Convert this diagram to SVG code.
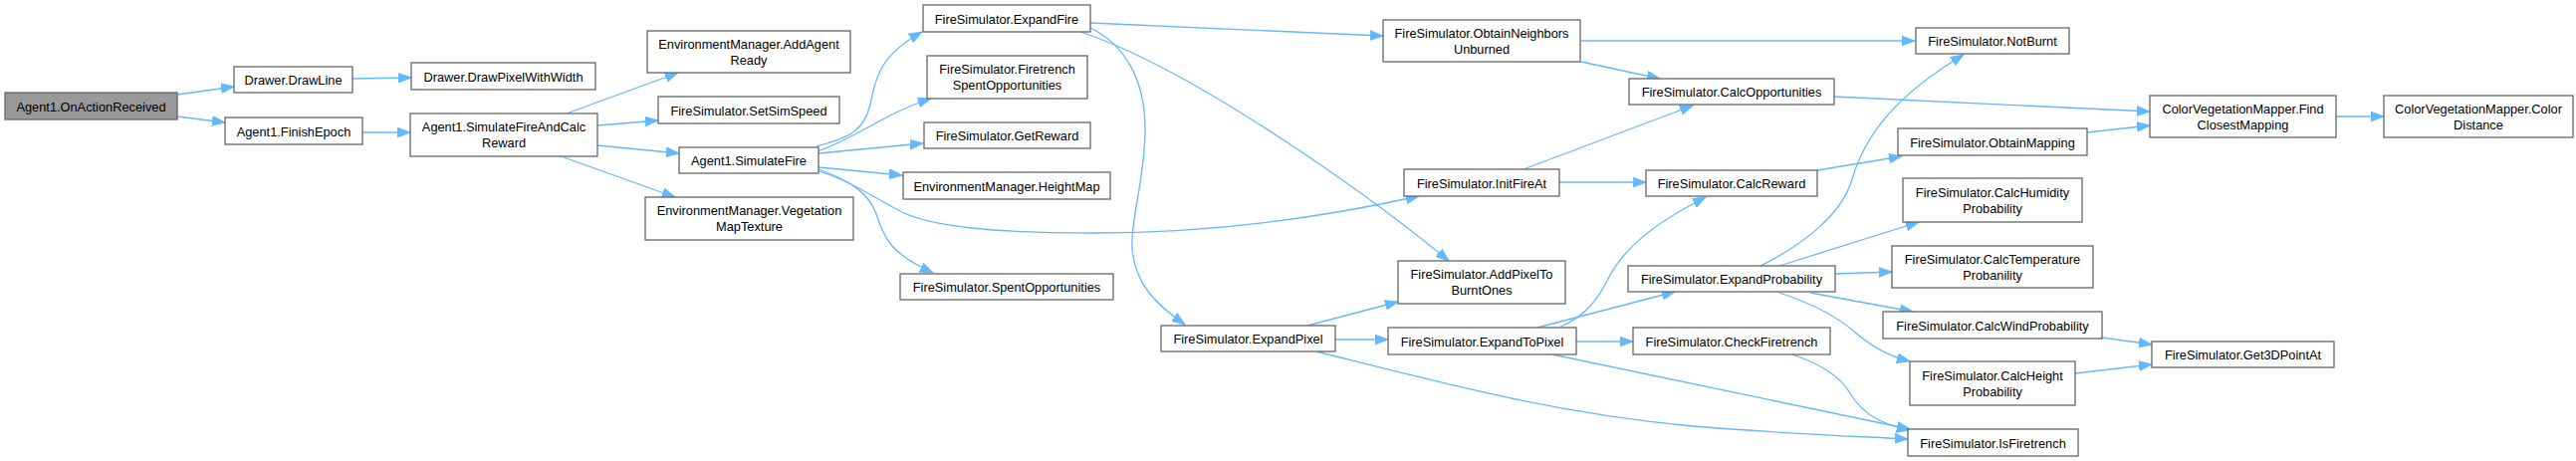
<svg xmlns="http://www.w3.org/2000/svg" width="2587" height="463" viewBox="0 0 2587 463">
<style>
.n rect{fill:#ffffff;stroke:#666666;stroke-width:1.3}
.root rect{fill:#999999}
.n text{font-family:"Liberation Sans",Arial,sans-serif;font-size:12.8px;fill:#000000;text-anchor:middle}
.e path{fill:none;stroke:#63b8ff;stroke-width:1.3;marker-end:url(#arr)}
</style>
<defs>
<marker id="arr" markerUnits="userSpaceOnUse" markerWidth="14" markerHeight="11" refX="13" refY="5.5" orient="auto">
<path d="M0,0.7 L13,5.5 L0,10.3 z" fill="#63b8ff" stroke="#63b8ff" stroke-width="1"/>
</marker>
</defs>
<rect width="2587" height="463" fill="#ffffff"/>
<g id="edges" class="e">
<path d="M178,95 L235,87"/>
<path d="M178,117 L226,123"/>
<path d="M354,79 L413,78"/>
<path d="M364,133 L412,133"/>
<path d="M569,114 L681,73"/>
<path d="M600,126 L661,121"/>
<path d="M600,146 L682,154"/>
<path d="M566,158 L678,198"/>
<path d="M820,147 C855,138 868,130 874,105 C880,75 885,55 926,32"/>
<path d="M821,152 C850,142 875,125 900,113 C912,107 922,103 935,99"/>
<path d="M822,154 L927,144"/>
<path d="M822,168 L906,176"/>
<path d="M822,172 C850,180 878,198 900,210 C930,228 1000,234 1100,234 C1220,234 1330,218 1425,197"/>
<path d="M822,170 C850,180 872,192 880,215 C888,240 895,255 937,274"/>
<path d="M1095,23 L1389,36"/>
<path d="M1085,32 C1200,70 1380,200 1455,262"/>
<path d="M1095,28 C1130,45 1150,80 1150,130 C1150,180 1135,220 1137,250 C1140,285 1160,305 1190,326"/>
<path d="M1588,41 L1923,41"/>
<path d="M1588,62 L1667,79"/>
<path d="M1530,170 L1700,106"/>
<path d="M1566,183 L1653,183"/>
<path d="M1842,97 L2159,112"/>
<path d="M2096,133 L2159,126"/>
<path d="M2346,117 L2394,117"/>
<path d="M1825,171 L1910,157"/>
<path d="M1313,327 L1404,303"/>
<path d="M1341,341 L1394,341"/>
<path d="M1322,353 C1450,385 1560,415 1700,428 C1800,436 1860,438 1916,441"/>
<path d="M1567,328 C1592,318 1605,300 1615,280 C1630,250 1660,225 1713,198"/>
<path d="M1544,329 L1682,293"/>
<path d="M1583,343 L1640,343"/>
<path d="M1559,356 L1918,431"/>
<path d="M1768,267 C1812,245 1850,215 1860,180 C1873,135 1905,95 1972,55"/>
<path d="M1787,267 L1927,223"/>
<path d="M1843,275 L1900,273"/>
<path d="M1818,294 L1921,313"/>
<path d="M1787,294 C1820,305 1845,318 1862,333 C1880,348 1895,357 1918,363"/>
<path d="M2111,339 L2161,346"/>
<path d="M2084,375 L2161,366"/>
<path d="M1800,356 C1830,366 1848,378 1858,395 C1870,415 1888,426 1918,432"/>
</g>
<g id="n0" class="n root"><rect x="5" y="93" width="173" height="27"/><text x="91.5" y="111.5">Agent1.OnActionReceived</text></g>
<g id="n1" class="n"><rect x="235" y="67" width="119" height="26"/><text x="294.5" y="85">Drawer.DrawLine</text></g>
<g id="n2" class="n"><rect x="413" y="63" width="185" height="27"/><text x="505.5" y="81.5">Drawer.DrawPixelWithWidth</text></g>
<g id="n3" class="n"><rect x="226" y="118" width="138" height="27"/><text x="295" y="136.5">Agent1.FinishEpoch</text></g>
<g id="n4" class="n"><rect x="412" y="114" width="188" height="43"/><text x="506" y="132">Agent1.SimulateFireAndCalc</text><text x="506" y="148">Reward</text></g>
<g id="n5" class="n"><rect x="650" y="31" width="204" height="42"/><text x="752" y="48.5">EnvironmentManager.AddAgent</text><text x="752" y="64.5">Ready</text></g>
<g id="n6" class="n"><rect x="661" y="97" width="182" height="27"/><text x="752" y="115.5">FireSimulator.SetSimSpeed</text></g>
<g id="n7" class="n"><rect x="682" y="148" width="140" height="26"/><text x="752" y="166">Agent1.SimulateFire</text></g>
<g id="n8" class="n"><rect x="648" y="198" width="209" height="43"/><text x="752.5" y="216">EnvironmentManager.Vegetation</text><text x="752.5" y="232">MapTexture</text></g>
<g id="n9" class="n"><rect x="927" y="5" width="168" height="27"/><text x="1011" y="23.5">FireSimulator.ExpandFire</text></g>
<g id="n10" class="n"><rect x="931" y="56" width="161" height="43"/><text x="1011.5" y="74">FireSimulator.Firetrench</text><text x="1011.5" y="90">SpentOpportunities</text></g>
<g id="n11" class="n"><rect x="928" y="123" width="167" height="26"/><text x="1011.5" y="141">FireSimulator.GetReward</text></g>
<g id="n12" class="n"><rect x="907" y="173" width="208" height="27"/><text x="1011" y="191.5">EnvironmentManager.HeightMap</text></g>
<g id="n13" class="n"><rect x="904" y="275" width="214" height="26"/><text x="1011" y="293">FireSimulator.SpentOpportunities</text></g>
<g id="n14" class="n"><rect x="1389" y="20" width="198" height="42"/><text x="1488" y="37.5">FireSimulator.ObtainNeighbors</text><text x="1488" y="53.5">Unburned</text></g>
<g id="n15" class="n"><rect x="1410" y="170" width="156" height="27"/><text x="1488" y="188.5">FireSimulator.InitFireAt</text></g>
<g id="n16" class="n"><rect x="1404" y="262" width="168" height="43"/><text x="1488" y="280">FireSimulator.AddPixelTo</text><text x="1488" y="296">BurntOnes</text></g>
<g id="n17" class="n"><rect x="1166" y="327" width="175" height="26"/><text x="1253.5" y="345">FireSimulator.ExpandPixel</text></g>
<g id="n18" class="n"><rect x="1394" y="329" width="189" height="27"/><text x="1488.5" y="347.5">FireSimulator.ExpandToPixel</text></g>
<g id="n19" class="n"><rect x="1924" y="28" width="154" height="26"/><text x="2001" y="46">FireSimulator.NotBurnt</text></g>
<g id="n20" class="n"><rect x="1636" y="79" width="206" height="26"/><text x="1739" y="97">FireSimulator.CalcOpportunities</text></g>
<g id="n21" class="n"><rect x="1653" y="171" width="172" height="26"/><text x="1739" y="189">FireSimulator.CalcReward</text></g>
<g id="n22" class="n"><rect x="1635" y="267" width="208" height="26"/><text x="1739" y="285">FireSimulator.ExpandProbability</text></g>
<g id="n23" class="n"><rect x="1640" y="329" width="198" height="27"/><text x="1739" y="347.5">FireSimulator.CheckFiretrench</text></g>
<g id="n24" class="n"><rect x="2159" y="96" width="187" height="42"/><text x="2252.5" y="113.5">ColorVegetationMapper.Find</text><text x="2252.5" y="129.5">ClosestMapping</text></g>
<g id="n25" class="n"><rect x="2394" y="96" width="190" height="42"/><text x="2489" y="113.5">ColorVegetationMapper.Color</text><text x="2489" y="129.5">Distance</text></g>
<g id="n26" class="n"><rect x="1906" y="129" width="190" height="27"/><text x="2001" y="147.5">FireSimulator.ObtainMapping</text></g>
<g id="n27" class="n"><rect x="1911" y="179" width="180" height="44"/><text x="2001" y="197.5">FireSimulator.CalcHumidity</text><text x="2001" y="213.5">Probability</text></g>
<g id="n28" class="n"><rect x="1900" y="247" width="202" height="42"/><text x="2001" y="264.5">FireSimulator.CalcTemperature</text><text x="2001" y="280.5">Probanility</text></g>
<g id="n29" class="n"><rect x="1891" y="313" width="220" height="27"/><text x="2001" y="331.5">FireSimulator.CalcWindProbability</text></g>
<g id="n30" class="n"><rect x="2161" y="343" width="183" height="26"/><text x="2252.5" y="361">FireSimulator.Get3DPointAt</text></g>
<g id="n31" class="n"><rect x="1918" y="363" width="166" height="44"/><text x="2001" y="381.5">FireSimulator.CalcHeight</text><text x="2001" y="397.5">Probability</text></g>
<g id="n32" class="n"><rect x="1916" y="431" width="171" height="27"/><text x="2001.5" y="449.5">FireSimulator.IsFiretrench</text></g>
</svg>
